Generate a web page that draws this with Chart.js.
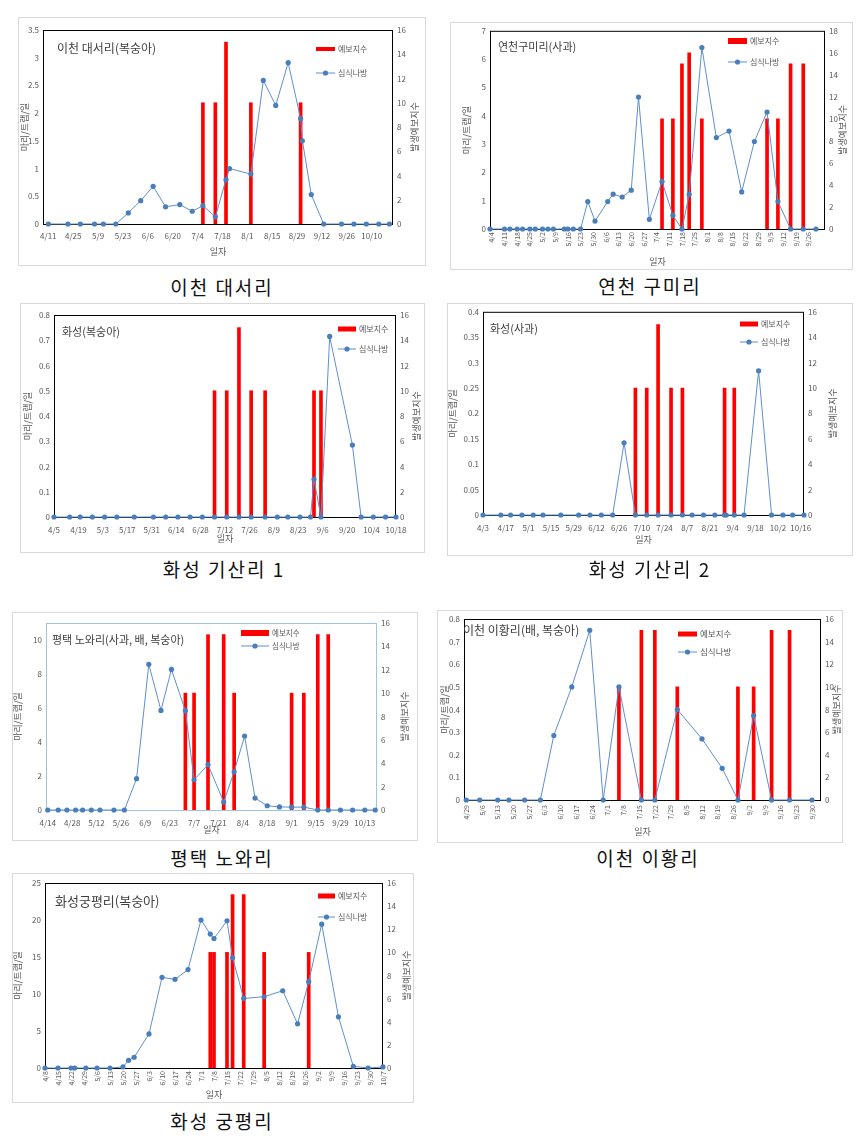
<!DOCTYPE html>
<html>
<head>
<meta charset="utf-8">
<script src="https://cdn.jsdelivr.net/npm/chart.js@4.4.0/dist/chart.umd.min.js"></script>
<style>
  body { margin: 0; background: #fff; width: 861px; height: 1140px; position: relative; overflow: hidden; }
  .panel { position: absolute; border: 1px solid #d9d9d9; box-sizing: border-box; }
  canvas { position: absolute; }
  .cap { position: absolute; transform: translate(-50%, -50%); white-space: nowrap;
         font-family: 'Noto Sans CJK KR', sans-serif; font-size: 19px; letter-spacing: 2px; color: #111; }
</style>
</head>
<body>
<script>
// 이천 대서리 (복숭아)
const c1XTicks = ['4/11','4/25','5/9','5/23','6/6','6/20','7/4','7/18','8/1','8/15','8/29','9/12','9/26','10/10'];
const c1Dates = ['4/11','4/22','4/29','5/7','5/12','5/19','5/26','6/2','6/9','6/16','6/24','7/1','7/7','7/14','7/20','7/22','8/3','8/10','8/17','8/24','8/31','9/1','9/6','9/13','9/23','9/30','10/7','10/14','10/20'];
const c1Moth = [0,0,0,0,0,0,0.2,0.42,0.68,0.31,0.35,0.23,0.33,0.13,0.8,1.0,0.9,2.59,2.14,2.91,1.9,1.5,0.53,0,0,0,0,0,0];
const c1BarDates = ['7/7','7/14','7/20','8/3','8/31'];
const c1Index = [10,10,15,10,10];
const c1YTicks = [0,0.5,1,1.5,2,2.5,3,3.5];

// 연천 구미리 (사과)
const c2XTicks = ['4/4','4/11','4/18','4/25','5/2','5/9','5/16','5/23','5/30','6/6','6/13','6/20','6/27','7/4','7/11','7/18','7/25','8/1','8/8','8/15','8/22','8/29','9/5','9/12','9/19','9/26'];
const c2Dates = ['4/3','4/11','4/14','4/18','4/21','4/25','4/28','5/2','5/5','5/8','5/14','5/16','5/19','5/23','5/27','5/31','6/7','6/10','6/15','6/20','6/24','6/30','7/7','7/13','7/18','7/22','7/29','8/6','8/13','8/20','8/27','9/3','9/9','9/16','9/23','9/30'];
const c2Moth = [0,0,0,0,0,0,0,0,0,0,0,0,0,0,0.97,0.28,0.97,1.23,1.13,1.37,4.66,0.34,1.68,0.48,0,1.22,6.41,3.23,3.46,1.31,3.09,4.13,0.97,0,0,0];
const c2BarDates = ['7/7','7/13','7/18','7/22','7/29','9/3','9/9','9/16','9/23'];
const c2Index = [10,10,15,16,10,10,10,15,15];
const c2YTicks = [0,1,2,3,4,5,6,7];

// 화성 기산리 1 (복숭아)
const c3XTicks = ['4/5','4/19','5/3','5/17','5/31','6/14','6/28','7/12','7/26','8/9','8/23','9/6','9/20','10/4','10/18'];
const c3Dates = ['4/5','4/14','4/20','4/27','5/4','5/11','5/21','6/1','6/8','6/15','6/22','6/29','7/6','7/13','7/20','7/27','8/4','8/11','8/17','8/24','8/30','9/1','9/5','9/10','9/23','9/28','10/5','10/12','10/18'];
const c3Moth = [0,0,0,0,0,0,0,0,0,0,0,0,0,0,0,0,0,0,0,0,0,0.15,0,0.715,0.285,0,0,0,0];
const c3BarDates = ['7/6','7/13','7/20','7/27','8/4','9/1','9/5'];
const c3Index = [10,10,15,10,10,10,10];
const c3YTicks = [0,0.1,0.2,0.3,0.4,0.5,0.6,0.7,0.8];

// 화성 기산리 2 (사과)
const c4XTicks = ['4/3','4/17','5/1','5/15','5/29','6/12','6/26','7/10','7/24','8/7','8/21','9/4','9/18','10/2','10/16'];
const c4Dates = ['4/3','4/14','4/20','4/27','5/4','5/10','5/21','6/1','6/8','6/15','6/22','6/29','7/6','7/13','7/20','7/28','8/4','8/10','8/17','8/24','8/30','8/31','9/5','9/11','9/20','9/28','10/5','10/11','10/18'];
const c4Moth = [0,0,0,0,0,0,0,0,0,0,0,0.142,0,0,0,0,0,0,0,0,0,0,0,0,0.284,0,0,0,0];
const c4BarDates = ['7/6','7/13','7/20','7/28','8/4','8/30','9/5'];
const c4Index = [10,10,15,10,10,10,10];
const c4YTicks = [0,0.05,0.1,0.15,0.2,0.25,0.3,0.35,0.4];

// 평택 노와리 (사과, 배, 복숭아)
const c5XTicks = ['4/14','4/28','5/12','5/26','6/9','6/23','7/7','7/21','8/4','8/18','9/1','9/15','9/29','10/13'];
const c5Dates = ['4/14','4/20','4/25','4/30','5/4','5/9','5/14','5/22','5/28','6/4','6/11','6/18','6/24','7/2','7/7','7/15','7/24','7/30','8/5','8/11','8/18','8/25','9/1','9/8','9/16','9/22','9/29','10/6','10/13','10/19'];
const c5Moth = [0,0,0,0,0,0,0,0,0,1.84,8.57,5.86,8.27,5.84,1.78,2.67,0.47,2.25,4.35,0.7,0.25,0.18,0.17,0.17,0,0,0,0,0,0];
const c5BarDates = ['7/2','7/7','7/15','7/24','7/30','9/1','9/8','9/16','9/22'];
const c5Index = [10,10,15,15,10,10,10,15,15];
const c5YTicks = [0,2,4,6,8,10];

// 이천 이황리 (배, 복숭아)
const c6XTicks = ['4/29','5/6','5/13','5/20','5/27','6/3','6/10','6/17','6/24','7/1','7/8','7/15','7/22','7/29','8/5','8/12','8/19','8/26','9/2','9/9','9/16','9/23','9/30'];
const c6Dates = ['4/29','5/5','5/13','5/18','5/25','6/1','6/7','6/15','6/23','6/29','7/6','7/16','7/22','8/1','8/12','8/21','8/28','9/4','9/12','9/20','9/30'];
const c6Moth = [0,0,0,0,0,0,0.285,0.5,0.75,0,0.5,0,0,0.4,0.27,0.14,0,0.373,0,0,0];
const c6BarDates = ['7/6','7/16','7/22','8/1','8/28','9/4','9/12','9/20'];
const c6Index = [10,15,15,10,10,10,15,15];
const c6YTicks = [0,0.1,0.2,0.3,0.4,0.5,0.6,0.7,0.8];

// 화성 궁평리 (복숭아)
const c7XTicks = ['4/8','4/15','4/22','4/29','5/6','5/13','5/20','5/27','6/3','6/10','6/17','6/24','7/1','7/8','7/15','7/22','7/29','8/5','8/12','8/19','8/26','9/2','9/9','9/16','9/23','9/30','10/7'];
const c7Dates = ['4/8','4/15','4/22','4/24','4/30','5/6','5/13','5/20','5/23','5/26','6/3','6/10','6/17','6/24','7/1','7/6','7/8','7/15','7/18','7/24','8/4','8/14','8/22','8/28','9/4','9/13','9/21','9/29','10/7'];
const c7Moth = [0,0,0,0,0,0,0,0.14,1.04,1.45,4.6,12.25,11.98,13.3,20.0,18.1,17.5,19.9,14.9,9.4,9.63,10.44,5.97,11.66,19.44,6.92,0.23,0,0.14];
const c7BarDates = ['7/6','7/8','7/15','7/18','7/24','8/4','8/28'];
const c7Index = [10,10,10,15,15,10,10];
const c7YTicks = [0,5,10,15,20,25];

const indexTicks16 = [0,2,4,6,8,10,12,14,16];
const indexTicks18 = [0,2,4,6,8,10,12,14,16,18];

const MOTH_LABEL = '심식나방';
const INDEX_LABEL = '예보지수';
const Y_TITLE = '마리/트랩/일';
const Y2_TITLE = '발생예보지수';
const X_TITLE = '일자';

const FONT = "'Noto Sans CJK KR', 'Noto Sans', sans-serif";
Chart.defaults.font.family = FONT;
Chart.defaults.color = '#595959';

// 날짜 -> 연중 일수
const MONTH_START = [0,31,59,90,120,151,181,212,243,273,304,334];
function day(s) {
  const [m, d] = s.split('/').map(Number);
  return MONTH_START[m - 1] + d;
}

// 위치/크기 (페이지 좌표)
const charts = [
  { title: '이천 대서리(복숭아)', caption: '이천 대서리', dates: c1Dates, moth: c1Moth, barDates: c1BarDates, index: c1Index,
    xTicks: c1XTicks, xRange: [98, 295], yTicks: c1YTicks, yMax: 3.5, y2Ticks: indexTicks16,
    panel: [18, 17, 408, 249], plot: [43, 30, 393, 224], rot: false, xPad: 7, border: '#000',
    titlePos: [57, 48, 12], legend: [316, 49, 19, 4, 73, 8], yTitleX: 25, y2TitleX: 415, xTitleY: 252, cap: [222, 286] },
  { title: '연천구미리(사과)', caption: '연천 구미리', dates: c2Dates, moth: c2Moth, barDates: c2BarDates, index: c2Index,
    xTicks: c2XTicks, xRange: [93, 278], yTicks: c2YTicks, yMax: 7, y2Ticks: indexTicks18,
    panel: [450, 22, 403, 248], plot: [490, 26, 825, 229], rot: true, xPad: 3, border: '#000',
    titlePos: [498, 47, 11], legend: [728, 41, 19, 6, 62, 8], yTitleX: 467, y2TitleX: 843, xTitleY: 262, cap: [650, 285] },
  { title: '화성(복숭아)', caption: '화성 기산리 1', dates: c3Dates, moth: c3Moth, barDates: c3BarDates, index: c3Index,
    xTicks: c3XTicks, xRange: [95, 291], yTicks: c3YTicks, yMax: 0.8, y2Ticks: indexTicks16,
    panel: [20, 303, 405, 250], plot: [54, 315, 396, 517], rot: false, xPad: 8, border: '#000',
    titlePos: [62, 332, 11], legend: [338, 329, 18, 5, 349, 8], yTitleX: 28, y2TitleX: 417, xTitleY: 539, cap: [224, 568] },
  { title: '화성(사과)', caption: '화성 기산리 2', dates: c4Dates, moth: c4Moth, barDates: c4BarDates, index: c4Index,
    xTicks: c4XTicks, xRange: [93, 291], yTicks: c4YTicks, yMax: 0.4, y2Ticks: indexTicks16,
    panel: [447, 303, 406, 253], plot: [483, 311, 804, 515], rot: false, xPad: 8, border: '#000',
    titlePos: [490, 329, 11], legend: [740, 324, 18, 5, 342, 8], yTitleX: 453, y2TitleX: 833, xTitleY: 540, cap: [650, 568] },
  { title: '평택 노와리(사과, 배, 복숭아)', caption: '평택 노와리', dates: c5Dates, moth: c5Moth, barDates: c5BarDates, index: c5Index,
    xTicks: c5XTicks, xRange: [103, 293], yTicks: c5YTicks, yMax: 11, y2Ticks: indexTicks16,
    panel: [12, 612, 406, 229], plot: [46, 623, 377, 810], rot: false, xPad: 8, border: '#9dc3e6',
    titlePos: [52, 640, 11], legend: [241, 633, 28, 6, 646, 7.5], yTitleX: 18, y2TitleX: 405, xTitleY: 830, cap: [222, 857] },
  { title: '이천 이황리(배, 복숭아)', caption: '이천 이황리', dates: c6Dates, moth: c6Moth, barDates: c6BarDates, index: c6Index,
    xTicks: c6XTicks, xRange: [118, 277], yTicks: c6YTicks, yMax: 0.8, y2Ticks: indexTicks16,
    panel: [437, 610, 406, 233], plot: [464, 619, 821, 800], rot: true, xPad: 5, border: '#000',
    titlePos: [463, 630, 12], legend: [678, 634, 19, 5, 652, 8.5], yTitleX: 445, y2TitleX: 837, xTitleY: 832, cap: [648, 857] },
  { title: '화성궁평리(복숭아)', caption: '화성 궁평리', dates: c7Dates, moth: c7Moth, barDates: c7BarDates, index: c7Index,
    xTicks: c7XTicks, xRange: [98, 280], yTicks: c7YTicks, yMax: 25, y2Ticks: indexTicks16,
    panel: [12, 873, 402, 230], plot: [45, 883, 383, 1068], rot: true, xPad: 3, border: '#000',
    titlePos: [55, 901, 13], legend: [318, 896, 17, 5, 917, 8], yTitleX: 18, y2TitleX: 407, xTitleY: 1095, cap: [222, 1120] }
];

// 플롯 영역 테두리
const plotBox = {
  id: 'plotBox',
  beforeDatasetsDraw(chart, args, o) {
    const { ctx, chartArea: a } = chart;
    ctx.save();
    ctx.strokeStyle = o.color;
    ctx.lineWidth = 1;
    ctx.strokeRect(a.left + 0.5, a.top + 0.5, a.right - a.left - 1, a.bottom - a.top);
    ctx.restore();
  }
};

// 내부 제목, 범례, 보조축 제목
const deco = {
  id: 'deco',
  afterDatasetsDraw(chart, args, o) {
    const { ctx, chartArea: a } = chart;
    const [lineSet, barSet] = chart.data.datasets;
    ctx.save();
    ctx.textBaseline = 'middle';
    ctx.fillStyle = '#404040';
    ctx.font = o.titleSize + 'px ' + FONT;
    ctx.fillText(o.title, o.titleX, o.titleY);

    const [lx, ly, lw, lh, ly2, fs] = o.legend;
    ctx.fillStyle = barSet.backgroundColor;
    ctx.fillRect(lx, ly - lh / 2, lw, lh);
    ctx.strokeStyle = lineSet.borderColor;
    ctx.lineWidth = 1;
    ctx.beginPath();
    ctx.moveTo(lx, ly2);
    ctx.lineTo(lx + lw, ly2);
    ctx.stroke();
    ctx.fillStyle = lineSet.pointBackgroundColor;
    ctx.beginPath();
    ctx.arc(lx + lw / 2, ly2, 2.6, 0, Math.PI * 2);
    ctx.fill();
    ctx.fillStyle = '#595959';
    ctx.font = fs + 'px ' + FONT;
    ctx.fillText(barSet.label, lx + lw + 3, ly);
    ctx.fillText(lineSet.label, lx + lw + 3, ly2);

    ctx.translate(o.y2TitleX, (a.top + a.bottom) / 2);
    ctx.rotate(-Math.PI / 2);
    ctx.textAlign = 'center';
    ctx.font = '9px ' + FONT;
    ctx.fillText(Y2_TITLE, 0, 0);
    ctx.restore();
  }
};

const numLabel = v => String(+v.toFixed(2));

charts.forEach(c => {
  const [px, py, pw, ph] = c.panel;
  const [L, T, R, B] = c.plot;

  const frame = document.createElement('div');
  frame.className = 'panel';
  Object.assign(frame.style, { left: px + 'px', top: py + 'px', width: pw + 'px', height: ph + 'px' });
  document.body.appendChild(frame);

  const cv = document.createElement('canvas');
  cv.width = pw;
  cv.height = ph;
  Object.assign(cv.style, { left: px + 'px', top: py + 'px', width: pw + 'px', height: ph + 'px' });
  document.body.appendChild(cv);

  const cap = document.createElement('div');
  cap.className = 'cap';
  cap.textContent = c.caption;
  Object.assign(cap.style, { left: c.cap[0] + 'px', top: c.cap[1] + 'px' });
  document.body.appendChild(cap);

  const yTitlePad = c.yTitleX - px - 5.4;
  const xTitlePad = (py + ph) - c.xTitleY - 5.4;
  const lg = c.legend;

  new Chart(cv, {
    type: 'bar',
    data: {
      datasets: [
        {
          type: 'line',
          label: MOTH_LABEL,
          data: c.dates.map((d, i) => ({ x: day(d), y: c.moth[i] })),
          yAxisID: 'y',
          borderColor: '#5f8fcf',
          borderWidth: 1,
          pointRadius: 2.6,
          pointBackgroundColor: '#4a7ebb',
          pointBorderWidth: 0,
          tension: 0,
          clip: false,
          order: 0
        },
        {
          type: 'bar',
          label: INDEX_LABEL,
          data: c.barDates.map((d, i) => ({ x: day(d), y: c.index[i] })),
          yAxisID: 'y1',
          backgroundColor: '#ff0000',
          barThickness: 3,
          order: 1
        }
      ]
    },
    options: {
      responsive: false,
      animation: false,
      events: [],
      layout: { padding: { top: T - py, left: 0, right: 0, bottom: 0 } },
      plugins: {
        legend: { display: false },
        tooltip: { enabled: false },
        plotBox: { color: c.border },
        deco: {
          title: c.title, titleX: c.titlePos[0] - px, titleY: c.titlePos[1] - py, titleSize: c.titlePos[2],
          legend: [lg[0] - px, lg[1] - py, lg[2], lg[3], lg[4] - py, lg[5]],
          y2TitleX: c.y2TitleX - px
        }
      },
      scales: {
        x: {
          type: 'linear',
          min: c.xRange[0],
          max: c.xRange[1],
          offset: false,
          grid: { display: false, drawTicks: false },
          border: { display: false },
          afterBuildTicks: s => { s.ticks = c.xTicks.map(t => ({ value: day(t) })); },
          afterFit: s => { s.height = py + ph - B; },
          ticks: {
            autoSkip: false,
            minRotation: c.rot ? 90 : 0,
            maxRotation: c.rot ? 90 : 0,
            padding: c.xPad,
            font: { size: c.rot ? 7 : 8 },
            callback: (v, i) => c.xTicks[i]
          },
          title: { display: true, text: X_TITLE, font: { size: 9 }, padding: { top: xTitlePad, bottom: xTitlePad } }
        },
        y: {
          position: 'left',
          min: 0,
          max: c.yMax,
          grid: { display: false, drawTicks: false },
          border: { display: false },
          afterBuildTicks: s => { s.ticks = c.yTicks.map(v => ({ value: v })); },
          afterFit: s => { s.width = L - px; },
          ticks: { padding: 4, font: { size: 8 }, callback: numLabel },
          title: { display: true, text: Y_TITLE, font: { size: 9 }, padding: { top: yTitlePad, bottom: 0 } }
        },
        y1: {
          position: 'right',
          min: 0,
          max: c.y2Ticks[c.y2Ticks.length - 1],
          grid: { display: false, drawTicks: false },
          border: { display: false },
          afterBuildTicks: s => { s.ticks = c.y2Ticks.map(v => ({ value: v })); },
          afterFit: s => { s.width = px + pw - R; },
          ticks: { padding: 4, font: { size: 8 } }
        }
      }
    },
    plugins: [plotBox, deco]
  });
});
</script>
</body>
</html>
